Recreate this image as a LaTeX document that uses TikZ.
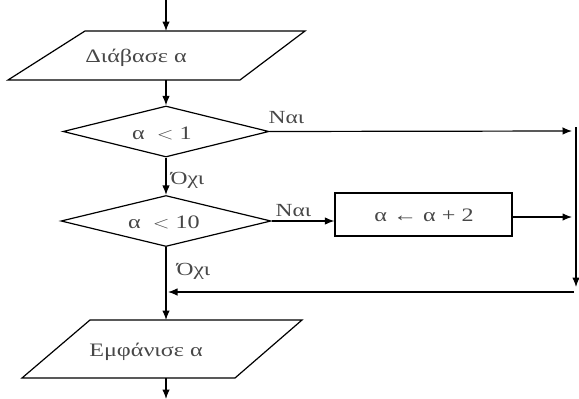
\documentclass[tikz,border=0pt]{standalone}
\usepackage{fontspec}
\setmainfont{Liberation Serif}
\usetikzlibrary{shapes.geometric,arrows.meta}
% wide setting of the flowchart lettering
\newcommand{\wtext}[1]{\scalebox{1.27}[1]{#1}}
\begin{document}
\begin{tikzpicture}[x=1pt,y=-1pt,
  line width=1.2pt,
  flow/.style={-{Latex[length=9.5pt,width=7.5pt]}},
  decide/.style={draw, diamond, inner sep=0pt},
  proc/.style={draw, rectangle, inner sep=0pt},
  txt/.style={font=\fontsize{19}{21}\selectfont, text=black!72, inner sep=0pt, anchor=base},
  lbl/.style={font=\fontsize{18.5}{21}\selectfont, text=black!72, inner sep=0pt, anchor=base west}]
  \useasboundingbox (0,0) rectangle (579,399);

  % input parallelogram
  \coordinate (inTop) at (166,31);
  \coordinate (inBot) at (166,80);
  \draw (85,31) -- (305,31) -- (240,80) -- (8,80) -- cycle;
  \node[txt] (intxt) at (136,62) {\wtext{Διάβασε\ α}};

  % output parallelogram
  \coordinate (outTop) at (166,320);
  \coordinate (outBot) at (166,378);
  \draw (90,320) -- (302,320) -- (235,378) -- (22,378) -- cycle;
  \node[txt] (outtxt) at (146,356) {\wtext{Εμφάνισε α}};

  % decisions
  \node[decide, minimum width=206pt, minimum height=51pt] (d1) at (166,131.5) {};
  \node[txt] (d1txt) at (162,139) {\wtext{α \ $<$ 1}};
  \node[decide, minimum width=210pt, minimum height=51pt] (d2) at (166,221) {};
  \node[txt] (d2txt) at (164,228) {\wtext{α \ $<$ 10}};

  % assignment
  \node[proc, minimum width=177pt, minimum height=43pt] (inc) at (423.5,214.5) {};
  \node[txt] (inctxt) at (424,221) {\wtext{α ← α + 2}};

  % free ends of connectors
  \coordinate (start) at (166,0);
  \coordinate (stop) at (166,399);
  \coordinate (yes1) at (572,131);
  \coordinate (yes2) at (572,217);
  \coordinate (railtop) at (576,127);
  \coordinate (railbot) at (576,287);
  \coordinate (joinR) at (574,292);
  \coordinate (joinL) at (168,292);

  % main flow
  \draw[flow] (start) -- (inTop);
  \draw[flow] (inBot) -- (d1.north);
  \draw[flow] (d1.south) -- (d2.north);
  \draw[flow] (d2.south) -- (outTop);
  \draw[flow] (outBot) -- (stop);

  % branches
  \draw[flow] (d1.east) -- (yes1);
  \draw[flow] (d2.east) -- (inc.west |- d2.east);
  \draw[flow] (inc.east |- yes2) -- (yes2);
  \draw[flow] (railtop) -- (railbot);
  \draw[flow] (joinR) -- (joinL);

  % branch labels
  \node[lbl] (n1) at (268,123) {\wtext{Ναι}};
  \node[lbl] (n2) at (275,216) {\wtext{Ναι}};
  \node[lbl] (o1) at (170,184) {\wtext{Όχι}};
  \node[lbl] (o2) at (176,275) {\wtext{Όχι}};
\end{tikzpicture}
\end{document}
